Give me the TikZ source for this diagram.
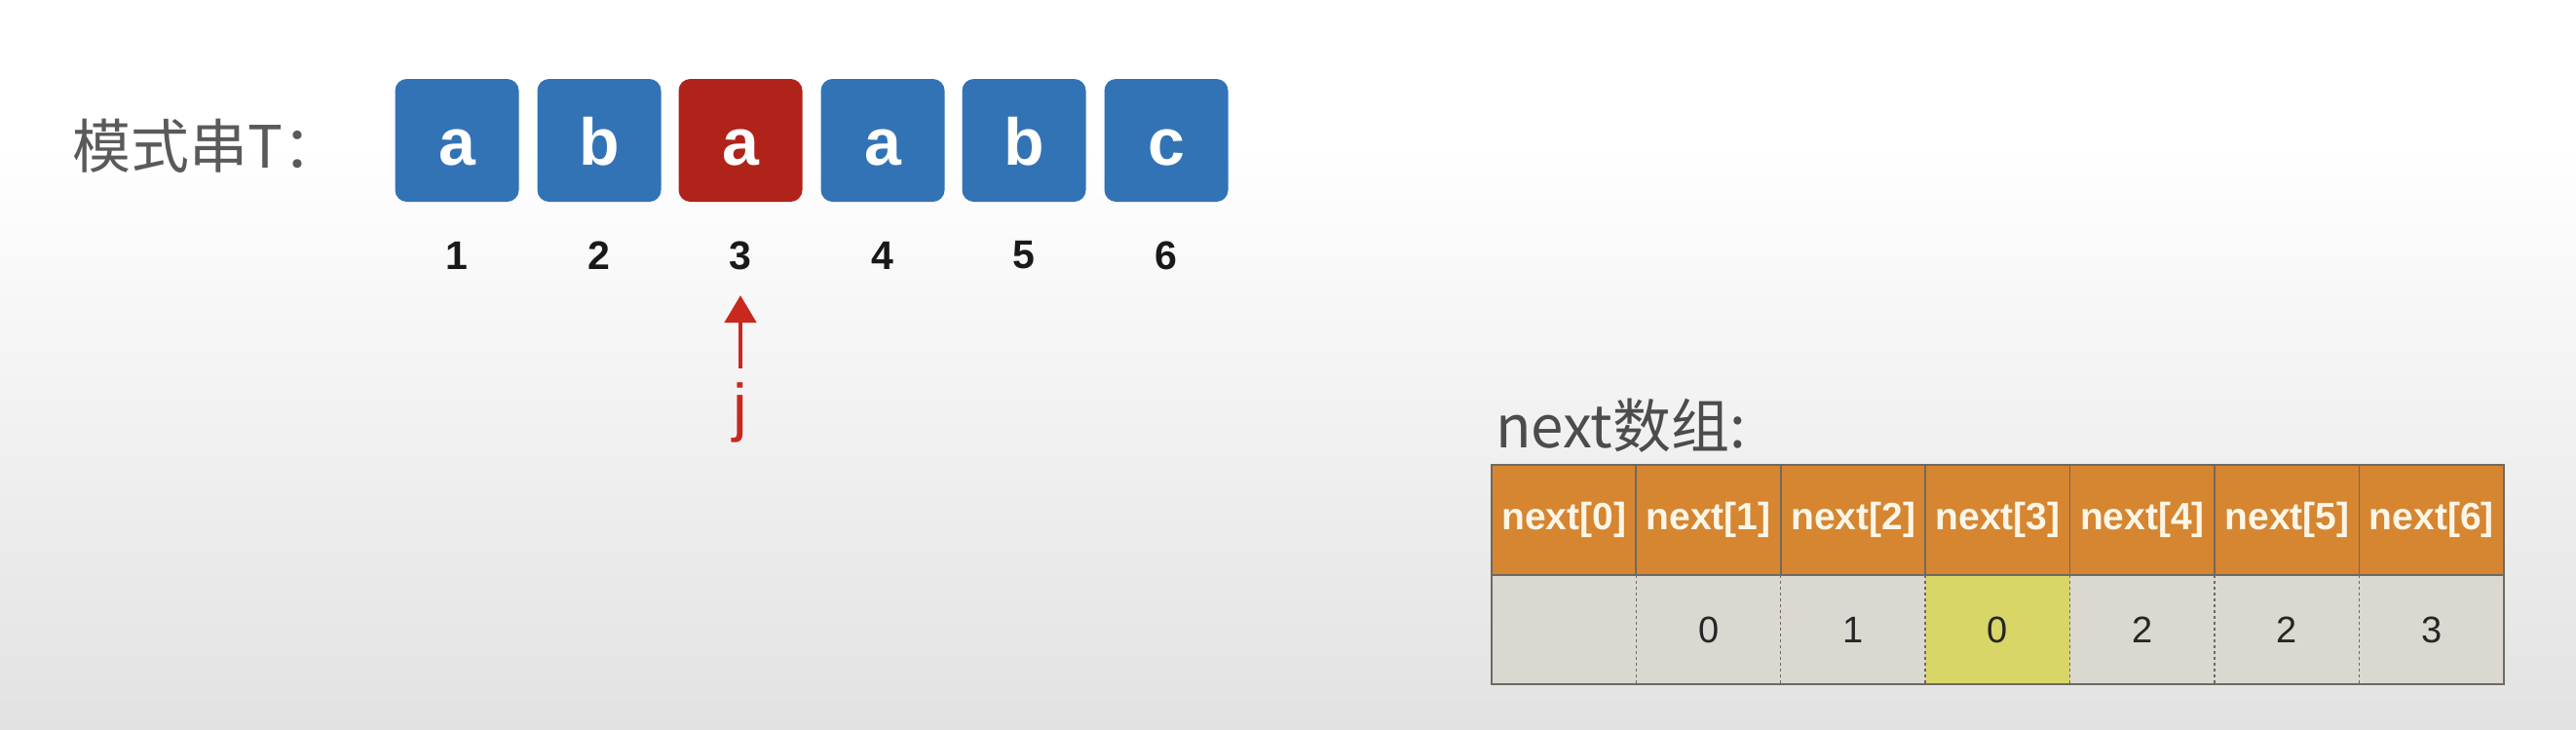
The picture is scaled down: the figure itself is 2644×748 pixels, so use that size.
\documentclass[tikz,border=0pt]{standalone}
\usepackage{fontspec}
\setmainfont{Liberation Sans}
\newfontfamily\cjk{Noto Sans CJK SC}
\usetikzlibrary{arrows.meta}
\definecolor{boxblue}{RGB}{50,115,182}
\definecolor{boxred}{RGB}{176,35,26}
\definecolor{ptrred}{RGB}{200,40,30}
\definecolor{hdrorange}{RGB}{214,133,48}
\definecolor{cellgray}{RGB}{218,216,208}
\definecolor{cellyellow}{RGB}{217,214,104}
\definecolor{bggray}{RGB}{226,226,226}
\definecolor{labelgray}{RGB}{90,90,90}
\definecolor{hdrtext}{RGB}{252,246,232}
\definecolor{linegray}{RGB}{110,105,100}
\begin{document}
\begin{tikzpicture}[x=1pt,y=-1pt,
  tbox/.style={rounded corners=12pt, minimum width=127pt, minimum height=126pt, inner sep=0pt,
    text height=50pt, text depth=0pt,
    fill=boxblue, text=white, font={\fontsize{68}{70}\selectfont\bfseries}},
  idx/.style={text=black!90, font={\fontsize{41}{44}\selectfont\bfseries}, inner sep=0pt},
  hdr/.style={fill=hdrorange, minimum width=148.43pt, minimum height=113pt, inner sep=0pt,
    text=hdrtext, font={\fontsize{39}{42}\selectfont\bfseries}},
  val/.style={fill=cellgray, minimum width=148.43pt, minimum height=112pt, inner sep=0pt,
    text=black!85, font={\fontsize{38}{42}\selectfont}},
  ptr/.style={ptrred, line width=4.5pt, -{Triangle[width=32pt,length=28pt]}},
  tline/.style={draw=linegray, line width=1.6pt},
  dline/.style={draw=linegray, line width=1.4pt, dash pattern=on 3pt off 3pt}
]
\useasboundingbox (0,0) rectangle (2644,748);
\fill[white] (0,0) rectangle (2644,150);
\shade[top color=white, bottom color=bggray] (0,150) rectangle (2644,748);

% pattern string label
\node[anchor=west, text=labelgray, font={\cjk\fontsize{60}{64}\selectfont}, inner sep=0pt] (lab) at (74,150) {模式串T：};

% boxes
\node[tbox] (b1) at (469,144) {a};
\node[tbox] (b2) at (615,144) {b};
\node[tbox, fill=boxred] (b3) at (760,144) {a};
\node[tbox] (b4) at (906,144) {a};
\node[tbox] (b5) at (1051,144) {b};
\node[tbox] (b6) at (1197,144) {c};

% indices
\node[idx] (n1) at (469,262) {1};
\node[idx] (n2) at (615,262) {2};
\node[idx] (n3) at (760,262) {3};
\node[idx] (n4) at (906,262) {4};
\node[idx] (n5) at (1051,262) {5};
\node[idx] (n6) at (1197,262) {6};

% pointer j
\node[text=ptrred, font={\fontsize{66}{70}\selectfont}, inner sep=0pt, anchor=north] (j) at (760,392) {j};
\coordinate (jtip) at (760,303);
\coordinate (jbase) at (760,378);
\draw[ptr] (jbase) -- (jtip);

% next array label
\node[anchor=west, text=labelgray!85!black, font={\cjk\fontsize{60}{64}\selectfont}, inner sep=0pt] (nlab) at (1535,437) {next数组:};

% table header
\node[hdr] (h0) at (1605.2,533.5) {next[0]};
\node[hdr] (h1) at (1753.6,533.5) {next[1]};
\node[hdr] (h2) at (1902.1,533.5) {next[2]};
\node[hdr] (h3) at (2050.5,533.5) {next[3]};
\node[hdr] (h4) at (2198.9,533.5) {next[4]};
\node[hdr] (h5) at (2347.4,533.5) {next[5]};
\node[hdr] (h6) at (2495.8,533.5) {next[6]};

% table values
\node[val] (v0) at (1605.2,646) {};
\node[val] (v1) at (1753.6,646) {0};
\node[val] (v2) at (1902.1,646) {1};
\node[val, fill=cellyellow] (v3) at (2050.5,646) {0};
\node[val] (v4) at (2198.9,646) {2};
\node[val] (v5) at (2347.4,646) {2};
\node[val] (v6) at (2495.8,646) {3};

% table lines
\foreach \i in {1,...,6} {
  \draw[tline] (h\i.north west) -- (h\i.south west);
  \draw[dline] (v\i.north west) -- (v\i.south west);
}
\draw[tline] (h0.south west) -- (h6.south east);
\draw[tline] (h0.north west) rectangle (v6.south east);
\end{tikzpicture}
\end{document}
